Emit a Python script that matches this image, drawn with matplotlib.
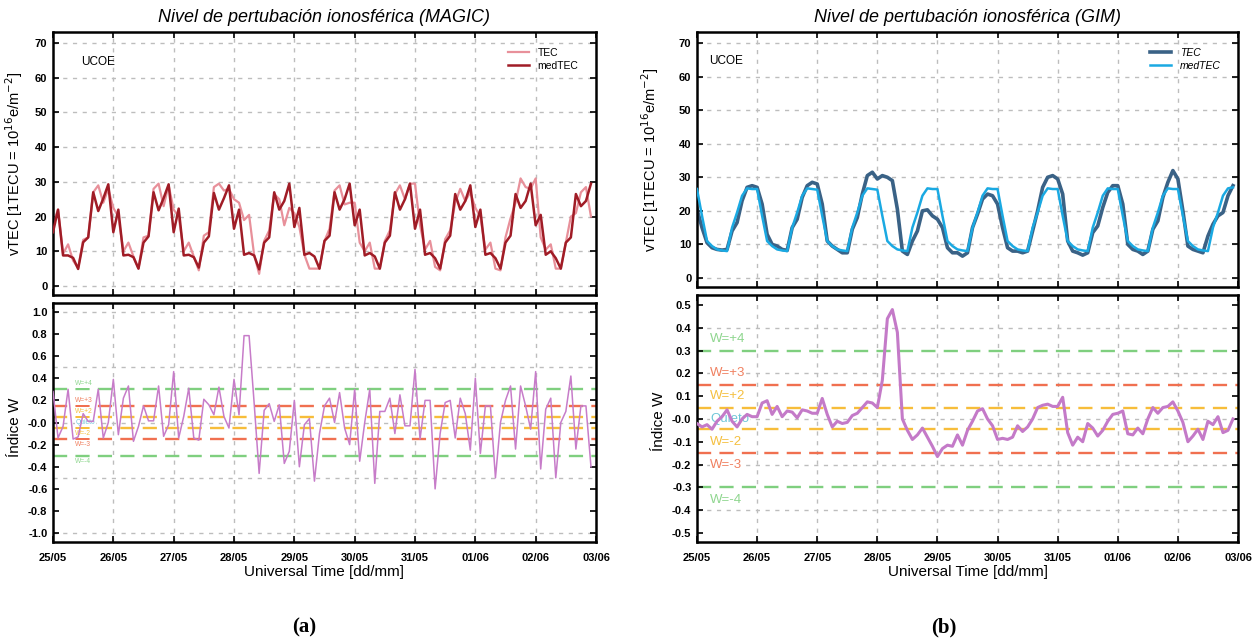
import numpy as np
import matplotlib
matplotlib.use("Agg")
import matplotlib.pyplot as plt

plt.rcParams['font.family'] = ['Liberation Sans', 'DejaVu Sans']
plt.rcParams['axes.unicode_minus'] = False

# ---------------- data ----------------
day_labels = ['25/05', '26/05', '27/05', '28/05', '29/05', '30/05', '31/05', '01/06', '02/06', '03/06']
step_hours = 2

magic_medtec = (
    [15.5, 22, 8.8, 8.8, 8.1, 4.9, 12.6, 14, 27, 21.6, 25.2, 29.3] +
    [15.5, 22, 8.8, 9, 8.3, 5, 12.5, 14.3, 27, 21.8, 25.3, 29.3] +
    [15.5, 22.3, 8.8, 9, 8.3, 5.3, 12.5, 14.3, 26.8, 22, 25.3, 29] +
    [16.5, 22, 9, 9.5, 8.8, 4.8, 12.5, 14, 27, 22, 24.5, 29.5] +
    [17, 22.5, 9, 9.5, 8.5, 5, 13, 14.5, 27, 22, 25, 29.5] +
    [17.5, 22, 8.8, 9.5, 8.5, 5, 12.5, 14.5, 27, 22, 25, 29.5] +
    [16.5, 22, 9, 9.5, 8, 5, 12.5, 14.5, 26.5, 22, 24.5, 29] +
    [17, 22, 9, 9.5, 8, 5, 12.5, 14.5, 26.5, 22.5, 24.5, 29.5] +
    [17.5, 20.5, 9, 10, 8, 5, 12.5, 14, 26.5, 23, 24.5, 29.5]
)
magic_tec = (
    [18, 22, 9.3, 12, 7.3, 5.2, 13.3, 14, 27, 29, 24, 28] +
    [22.5, 20, 10, 12.5, 8.5, 5, 14, 14.5, 28, 29.5, 23, 29] +
    [22, 20, 10, 12.5, 8.5, 4.5, 14.5, 15.5, 28.5, 29.5, 27.5, 28] +
    [25, 24, 19, 20.5, 9, 3.5, 13, 16, 26.5, 25, 17.5, 22.5] +
    [21, 17, 9, 5, 5, 5, 13, 16.5, 27.5, 29, 23.5, 24] +
    [24, 12.5, 10, 12.5, 5, 5, 13, 16, 26.5, 29, 25, 29.5] +
    [29.5, 17.5, 10.5, 13, 5.5, 4.5, 13.5, 16, 24, 28, 24.5, 27] +
    [22.5, 20, 10.5, 12.5, 5, 4.5, 14, 19.5, 24, 31, 28.5, 28] +
    [31, 14, 10.5, 12, 5, 5, 12.5, 20, 21, 27, 28.5, 20]
)
magic_w = (
    [0.28, -0.14, -0.035, 0.30, -0.15, -0.13, 0.08, 0.01, 0.01, 0.30, -0.14, 0.0] +
    [0.39, -0.11, 0.22, 0.33, -0.17, -0.035, 0.15, 0.015, 0.015, 0.33, -0.125, -0.02] +
    [0.46, -0.14, 0.055, 0.31, -0.14, -0.16, 0.21, 0.16, 0.07, 0.32, 0.055, -0.05] +
    [0.39, 0.07, 0.785, 0.785, 0.18, -0.46, 0.11, 0.17, 0.01, 0.16, -0.37, -0.26] +
    [0.2, -0.4, -0.02, 0.035, -0.53, -0.1, 0.15, 0.22, 0.0, 0.27, -0.05, -0.2] +
    [0.3, -0.35, 0.0, 0.3, -0.55, 0.1, 0.1, 0.22, -0.1, 0.25, -0.03, -0.03] +
    [0.48, -0.15, 0.2, 0.2, -0.6, -0.1, 0.18, 0.2, -0.14, 0.22, 0.08, -0.25] +
    [0.4, -0.28, 0.15, 0.15, -0.5, 0.0, 0.2, 0.33, -0.24, 0.33, 0.15, -0.06] +
    [0.46, -0.42, 0.12, 0.22, -0.5, 0.0, 0.1, 0.42, -0.24, 0.15, 0.15, -0.4]
)

gim_medtec = (
    [26.5, 18.5, 11, 9.5, 8.5, 8.2, 8, 15, 19.5, 24.5, 26.7, 26.5] +
    [26.5, 18.5, 11, 9.5, 8.5, 8.2, 8, 15, 19.5, 24.5, 26.7, 26.5] +
    [26.3, 18.5, 11, 9.5, 8.5, 8.2, 8, 15, 19.5, 24.5, 26.7, 26.5] +
    [26.3, 18.5, 11, 9.5, 8.5, 8.2, 8, 15, 19.5, 24.5, 26.7, 26.5] +
    [26.5, 18.5, 11, 9.5, 8.5, 8.2, 8, 15, 19.5, 24.5, 26.7, 26.5] +
    [26.5, 18.5, 11, 9.5, 8.5, 8.2, 8, 15, 19.5, 24.5, 26.7, 26.5] +
    [26.5, 18.5, 11, 9.5, 8.5, 8.2, 8, 15, 19.5, 24.5, 26.7, 26.5] +
    [26.5, 18.5, 11, 9.5, 8.5, 8.2, 8, 15, 19.5, 24.5, 26.7, 26.5] +
    [26.5, 18.5, 11, 9.5, 8.5, 8.2, 8, 15, 19.5, 24.5, 26.7, 27]
)
gim_tec = (
    [20.5, 15, 10.5, 9, 8.5, 8.3, 8.5, 14, 16.5, 23, 27, 27.5] +
    [27, 22, 13, 10, 9.5, 8.5, 8.2, 15, 17.5, 24, 27.5, 28.5] +
    [28, 22, 11, 9.5, 8.5, 7.5, 7.5, 14.5, 18, 25, 30.5, 31.5] +
    [29.5, 30.5, 30, 29, 20.5, 8, 7, 11, 14, 20, 20.3, 18.5] +
    [17.5, 15, 9, 7.5, 7.5, 6.5, 7.5, 15, 19, 23.5, 25, 24.5] +
    [22, 15, 9, 8, 8, 7.5, 8, 14, 20, 27, 30, 30.5] +
    [29.5, 25, 11, 8, 7.5, 6.8, 7.5, 13.5, 15.5, 21, 25.5, 27.5] +
    [27.5, 22, 10, 8.5, 8, 7, 8, 14.5, 17, 24, 28.5, 32] +
    [29.5, 20, 9.5, 8.5, 8, 7.5, 12.5, 16, 18.5, 19.5, 24.5, 27.5]
)
gim_w = (
    [-0.02, -0.035, -0.025, -0.045, -0.01, 0.01, 0.04, -0.01, -0.035, 0.0, 0.02, 0.01] +
    [0.01, 0.07, 0.08, 0.02, 0.055, 0.01, 0.035, 0.03, 0.005, 0.04, 0.035, 0.025] +
    [0.025, 0.09, 0.02, -0.035, -0.01, -0.02, -0.015, 0.015, 0.025, 0.05, 0.075, 0.07] +
    [0.05, 0.17, 0.44, 0.48, 0.38, 0.0, -0.05, -0.09, -0.07, -0.04, -0.08, -0.12] +
    [-0.165, -0.13, -0.115, -0.12, -0.07, -0.115, -0.05, -0.01, 0.035, 0.045, 0.0, -0.03] +
    [-0.09, -0.085, -0.09, -0.08, -0.03, -0.055, -0.035, 0.0, 0.05, 0.06, 0.065, 0.055] +
    [0.055, 0.095, -0.06, -0.115, -0.08, -0.1, -0.02, -0.04, -0.075, -0.05, -0.01, 0.02] +
    [0.025, 0.035, -0.065, -0.07, -0.04, -0.065, 0.0, 0.05, 0.025, 0.05, 0.055, 0.075] +
    [0.035, -0.015, -0.1, -0.075, -0.045, -0.09, -0.01, -0.025, 0.01, -0.06, -0.05, 0.0]
)

w_levels = [0.3, 0.15, 0.046, -0.046, -0.15, -0.3]
w_level_colors = ['#7fcf7f', '#f07050', '#f7bd3a', '#f7bd3a', '#f07050', '#7fcf7f']
w_names = ['W=+4', 'W=+3', 'W=+2', 'Quieto', 'W=-2', 'W=-3', 'W=-4']
w_name_y = [0.35, 0.2, 0.1, 0.0, -0.1, -0.2, -0.355]
w_name_colors = ['#8fd68f', '#f08060', '#f5c040', '#6ec6d8', '#f5c040', '#f08060', '#8fd68f']

t = np.arange(len(magic_tec)) * step_hours / 24.0
tg = np.arange(len(gim_tec)) * step_hours / 24.0

# ---------------- figure ----------------
W, H = 1256, 640
fig = plt.figure(figsize=(W / 100, H / 100), dpi=100)


def px_axes(x0, x1, ytop, ybot):
    return fig.add_axes([x0 / W, 1 - ybot / H, (x1 - x0) / W, (ybot - ytop) / H])


ax_lt = px_axes(53, 596, 32, 295)
ax_lb = px_axes(53, 596, 303, 542)
ax_rt = px_axes(697, 1238, 32, 287)
ax_rb = px_axes(697, 1238, 295, 542)

grid_kw = dict(color='#bdbdbd', lw=1.0, ls=(0, (3, 4)), zorder=0)


def style(ax, yticks, ylabels, ygrid, ylim, show_x):
    ax.set_xlim(0, len(day_labels) - 1)
    ax.set_ylim(*ylim)
    ax.set_xticks(range(len(day_labels)))
    if show_x:
        ax.set_xticklabels(day_labels, fontsize=8, fontweight='bold')
    else:
        ax.set_xticklabels([])
    ax.set_yticks(yticks)
    ax.set_yticklabels(ylabels, fontsize=8, fontweight='bold')
    ax.tick_params(direction='in', length=4.5, width=1.2, top=True, right=True,
                   pad=4)
    ax.tick_params(axis='x', pad=8)
    for s in ax.spines.values():
        s.set_linewidth(1.8)
    for xv in range(1, len(day_labels) - 1):
        ax.axvline(xv, **grid_kw)
    for yv in ygrid:
        ax.axhline(yv, **grid_kw)


tec_ticks = list(range(0, 80, 10))
tec_lbls = [str(v) for v in tec_ticks]

# ---- left top (MAGIC) ----
style(ax_lt, tec_ticks, tec_lbls, tec_ticks, (-2.6, 73.2), False)
ax_lt.plot(t, magic_tec, color='#e8909a', lw=1.6, label='TEC', zorder=2)
ax_lt.plot(t, magic_medtec, color='#a01c26', lw=1.8, label='medTEC', zorder=3)
ax_lt.legend(loc='upper right', bbox_to_anchor=(0.985, 0.975), frameon=False,
             fontsize=7.5, handlelength=2.0, labelspacing=0.3)
ax_lt.text(0.052, 0.886, 'UCOE', transform=ax_lt.transAxes, fontsize=8.5,
           va='center', ha='left')
ax_lt.set_ylabel('vTEC [1TECU = 10$^{16}$e/m$^{-2}$]', fontsize=10.5)
ax_lt.yaxis.set_label_coords(-0.052, 0.5)

# ---- right top (GIM) ----
style(ax_rt, tec_ticks, tec_lbls, tec_ticks, (-2.7, 73.3), False)
ax_rt.plot(tg, gim_tec, color='#3a6286', lw=2.6, label='TEC', zorder=2)
ax_rt.plot(tg, gim_medtec, color='#1aa9e2', lw=1.8, label='medTEC', zorder=3)
ax_rt.legend(loc='upper right', bbox_to_anchor=(0.985, 0.975), frameon=False,
             handlelength=2.0, labelspacing=0.3,
             prop={'style': 'italic', 'size': 7.5})
ax_rt.text(0.022, 0.886, 'UCOE', transform=ax_rt.transAxes, fontsize=8.5,
           va='center', ha='left')
ax_rt.set_ylabel('vTEC [1TECU = 10$^{16}$e/m$^{-2}$]', fontsize=10.5)
ax_rt.yaxis.set_label_coords(-0.067, 0.5)

# ---- left bottom (MAGIC W) ----
lb_ticks = [round(v, 1) for v in np.arange(-1.0, 1.01, 0.2)]
style(ax_lb, lb_ticks, ['%.1f' % v for v in lb_ticks], [1.0, 0.5, 0.0, -0.5, -1.0],
      (-1.08, 1.08), True)
for lv, lc in zip(w_levels, w_level_colors):
    ax_lb.axhline(lv, color=lc, lw=1.7, ls=(0, (6, 3.5)), zorder=1)
for nm, ny, nc in zip(w_names, w_name_y, w_name_colors):
    ax_lb.text(0.37, ny, nm, color=nc, fontsize=4.8, va='center', ha='left', zorder=1.5,
               bbox=dict(facecolor='white', edgecolor='none', pad=0.5))
ax_lb.plot(t, magic_w, color='#c77cc9', lw=1.1, zorder=3)
ax_lb.set_ylabel('Índice W', fontsize=11)
ax_lb.yaxis.set_label_coords(-0.057, 0.48)

# ---- right bottom (GIM W) ----
rb_ticks = [round(v, 1) for v in np.arange(-0.5, 0.51, 0.1)]
style(ax_rb, rb_ticks, ['%.1f' % v for v in rb_ticks], [0.4, 0.2, 0.0, -0.2, -0.4],
      (-0.54, 0.544), True)
for lv, lc in zip(w_levels, w_level_colors):
    ax_rb.axhline(lv, color=lc, lw=1.7, ls=(0, (6, 3.5)), zorder=1)
for nm, ny, nc in zip(w_names, w_name_y, w_name_colors):
    ax_rb.text(0.22, ny, nm, color=nc, fontsize=9.5, va='center', ha='left', zorder=1.5,
               bbox=dict(facecolor='white', edgecolor='none', pad=0.5))
ax_rb.plot(tg, gim_w, color='#c47ac8', lw=2.2, zorder=3)
ax_rb.set_ylabel('Índice W', fontsize=11)
ax_rb.yaxis.set_label_coords(-0.057, 0.49)

# ---- titles, x labels, captions ----
fig.text(324.5 / W, 1 - 17 / H, 'Nivel de pertubación ionosférica (MAGIC)',
         ha='center', va='center', fontsize=13, style='italic')
fig.text(967.5 / W, 1 - 17 / H, 'Nivel de pertubación ionosférica (GIM)',
         ha='center', va='center', fontsize=13, style='italic')
fig.text(324.5 / W, 1 - 572 / H, 'Universal Time [dd/mm]', ha='center', va='center', fontsize=11)
fig.text(967.5 / W, 1 - 572 / H, 'Universal Time [dd/mm]', ha='center', va='center', fontsize=11)
fig.text(304 / W, 1 - 627 / H, '(a)', ha='center', va='center', fontsize=15,
         fontweight='bold', family='Liberation Serif')
fig.text(944 / W, 1 - 627 / H, '(b)', ha='center', va='center', fontsize=15,
         fontweight='bold', family='Liberation Serif')

fig.savefig('out.png', dpi=100, facecolor='white')
